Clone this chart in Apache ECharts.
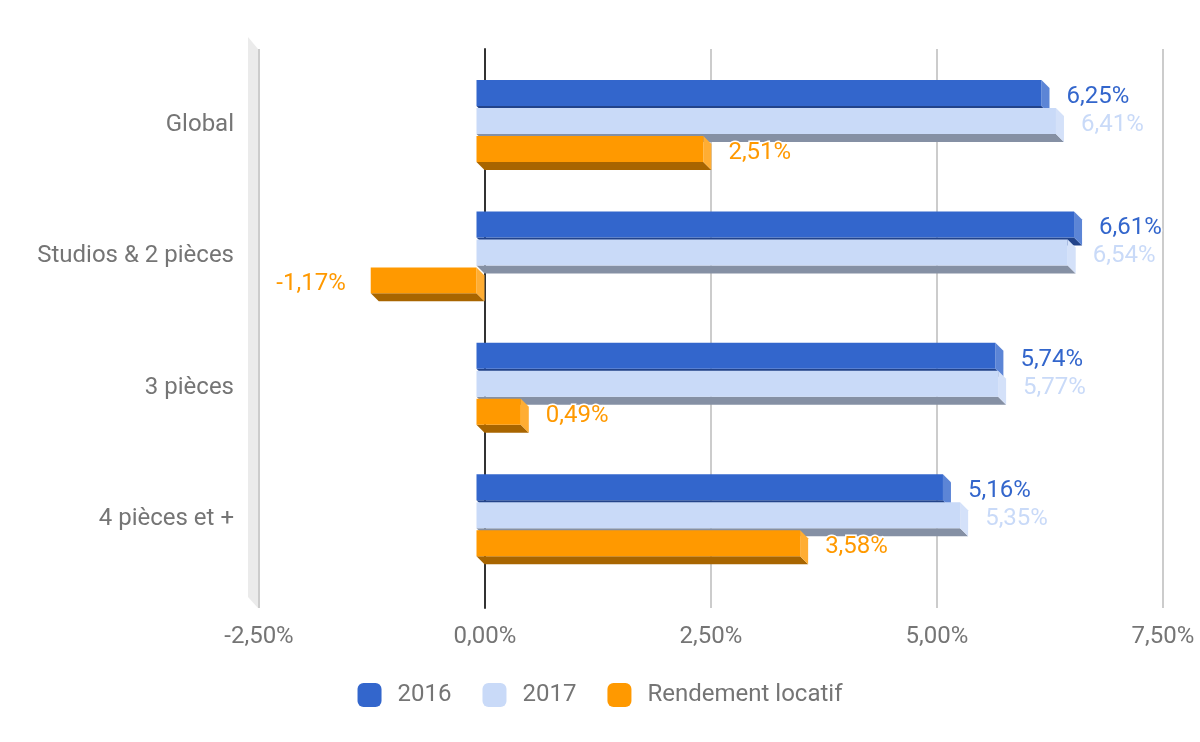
<!DOCTYPE html>
<html>
<head>
<meta charset="utf-8">
<script src="https://cdn.jsdelivr.net/npm/echarts@6/dist/echarts.min.js"></script>
<style>
html,body{margin:0;padding:0;background:#fff;}
#chart{width:1200px;height:742px;}
</style>
</head>
<body>
<div id="chart"></div>
<script>
// ---- data ----
const categories = ['Global', 'Studios & 2 pièces', '3 pièces', '4 pièces et +'];
const seriesNames = ['2016', '2017', 'Rendement locatif'];
const values2016 = [6.25, 6.61, 5.74, 5.16];
const values2017 = [6.41, 6.54, 5.77, 5.35];
const valuesRendement = [2.51, -1.17, 0.49, 3.58];
const xTickValues = [-2.5, 0, 2.5, 5, 7.5];
const xTickLabels = ['-2,50%', '0,00%', '2,50%', '5,00%', '7,50%'];

// ---- styles ----
const frontColors = ['#3366cc', '#c9daf8', '#ff9900'];
const sideColors = ['#5c85d6', '#d4e1f9', '#ffad33'];
const bottomColors = ['#22438a', '#8590a4', '#a86500'];
const labelColors = ['#3366cc', '#c9daf8', '#ff9900'];
const FONT = 'Roboto, "Noto Sans", sans-serif';
const DEPTH = 8;

function fmt(v) { return v.toFixed(2).replace('.', ',') + '%'; }

function makeRender(k) {
  return function (params, api) {
    const v = api.value(0);
    const cat = api.value(1);
    const c0 = api.coord([0, cat]);
    const cv = api.coord([v, cat]);
    const band = api.size([0, 1])[1];
    const slot = band * 0.213;
    const fh = slot - 2;
    const backL = Math.min(c0[0], cv[0]);
    const backR = Math.max(c0[0], cv[0]);
    const fl = backL - DEPTH - 0.5, fr = backR - DEPTH - 0.5;
    const ft = c0[1] - band * 0.3257 - 2 + k * slot;
    const fb = ft + fh;
    return {
      type: 'group',
      children: [
        { type: 'polygon', shape: { points: [[fl, fb], [fr, fb], [fr + DEPTH, fb + DEPTH], [fl + DEPTH, fb + DEPTH]] }, style: { fill: bottomColors[k] } },
        { type: 'polygon', shape: { points: [[fr, ft], [fr + DEPTH, ft + DEPTH], [fr + DEPTH, fb + DEPTH], [fr, fb]] }, style: { fill: sideColors[k] } },
        { type: 'rect', shape: { x: fl, y: ft, width: fr - fl, height: fh }, style: { fill: frontColors[k] } },
        { type: 'text', z2: 10, style: {
            text: fmt(v),
            x: v >= 0 ? fr + 25 : fl - 25,
            y: (ft + fb) / 2 + 4,
            align: v >= 0 ? 'left' : 'right',
            verticalAlign: 'middle',
            fill: labelColors[k],
            font: '24px ' + FONT,
            stroke: '#fff',
            lineWidth: 3
          } }
      ]
    };
  };
}

const allValues = [values2016, values2017, valuesRendement];

const chart = echarts.init(document.getElementById('chart'));
const option = {
  animation: false,
  backgroundColor: '#fff',
  textStyle: { fontFamily: FONT },
  grid: [
    { left: 259, right: 37, top: 49, bottom: 134 },
    { left: 259, right: 37, top: 59.1, height: 525.6 }
  ],
  legend: {
    data: seriesNames,
    left: 'center',
    top: 678,
    icon: 'roundRect',
    itemWidth: 24,
    itemHeight: 24,
    itemGap: 31,
    textStyle: { fontSize: 24, color: '#757575', fontFamily: FONT, padding: [0, 0, 0, 11] },
    selectedMode: false
  },
  xAxis: [
    {
      gridIndex: 0, type: 'value', min: -2.5, max: 7.5, interval: 2.5,
      axisLine: { show: false }, axisTick: { show: false },
      splitLine: { show: true, lineStyle: { color: '#cccccc', width: 2 } },
      axisLabel: {
        fontSize: 24, color: '#757575', margin: 17,
        formatter: function (val) {
          const i = xTickValues.findIndex(t => Math.abs(t - val) < 1e-9);
          return i >= 0 ? xTickLabels[i] : '';
        }
      }
    },
    { gridIndex: 1, type: 'value', min: -2.5, max: 7.5, interval: 2.5, show: false }
  ],
  yAxis: [
    {
      gridIndex: 0, type: 'value', min: 0, max: 1,
      axisLabel: { show: false }, axisTick: { show: false }, splitLine: { show: false },
      axisLine: { show: true, onZero: true, lineStyle: { color: '#333333', width: 2 } }
    },
    {
      gridIndex: 1, type: 'category', inverse: true, data: categories,
      axisLine: { show: false, onZero: false }, axisTick: { show: false },
      splitLine: { show: false },
      axisLabel: { fontSize: 24, color: '#757575', margin: 25 }
    }
  ],
  series: [
    {
      type: 'custom', name: 'wall', xAxisIndex: 0, yAxisIndex: 0, silent: true, z: 1,
      data: [[xTickValues[0], 0]],
      renderItem: function (params, api) {
        const b = api.coord([api.value(0), 0]);
        const t = api.coord([api.value(0), 1]);
        return {
          type: 'polygon',
          shape: { points: [[t[0] - 11, t[1] - 12], [t[0] - 1, t[1]], [b[0] - 1, b[1]], [b[0] - 11, b[1] - 11]] },
          style: { fill: '#ebebeb' }
        };
      }
    }
  ].concat(seriesNames.map(function (name, k) {
    return {
      type: 'custom', name: name, xAxisIndex: 1, yAxisIndex: 1, silent: true,
      itemStyle: { color: frontColors[k] },
      encode: { x: 0, y: 1 },
      data: allValues[k].map(function (v, i) { return [v, i]; }),
      renderItem: makeRender(k)
    };
  }))
};
chart.setOption(option);
</script>
</body>
</html>
